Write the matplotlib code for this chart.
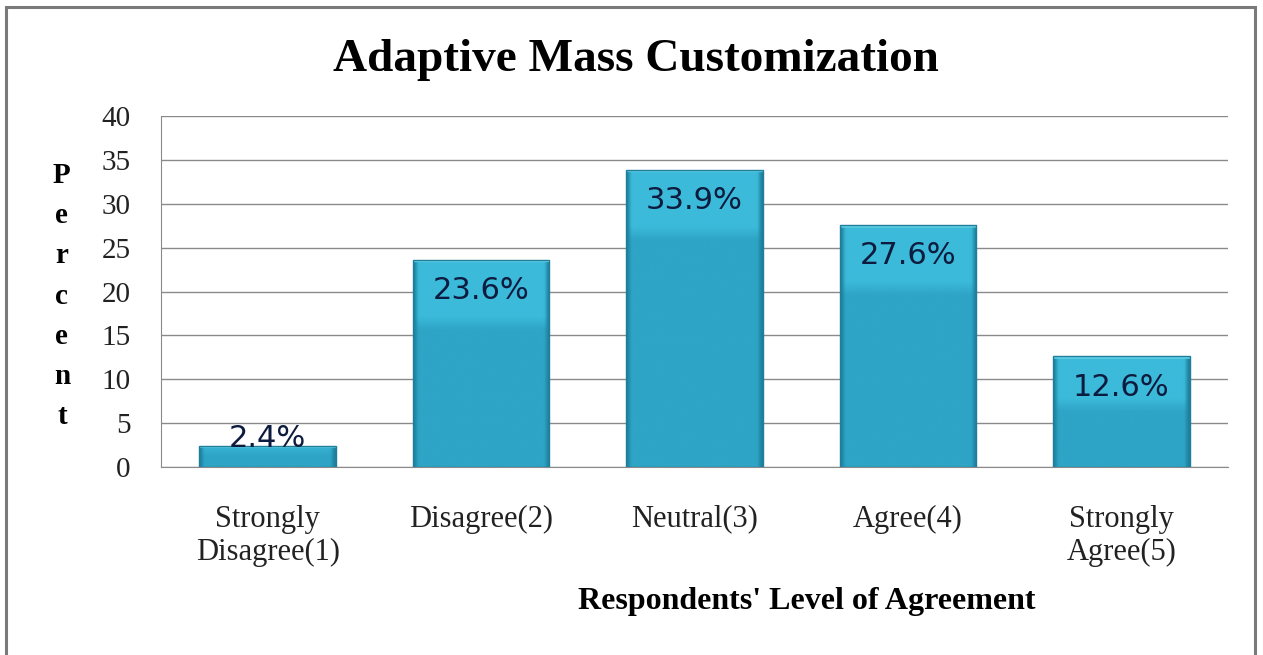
import numpy as np
import matplotlib.pyplot as plt
from matplotlib.patches import Rectangle

# Survey results: share of respondents per agreement level
categories = ["Strongly\nDisagree(1)", "Disagree(2)", "Neutral(3)", "Agree(4)", "Strongly\nAgree(5)"]
percents = [2.4, 23.6, 33.9, 27.6, 12.6]
yticks = [0, 5, 10, 15, 20, 25, 30, 35, 40]

SERIF = ["Liberation Serif", "DejaVu Serif"]


def BarShade(h, rows=200, cols=60):
    # Build an RGB gradient: darker sides, slightly lighter band near the top
    body = np.array([46, 164, 198]) / 255
    light = np.array([60, 186, 218]) / 255
    dark = np.array([30, 128, 158]) / 255
    xs = np.linspace(-1, 1, cols)
    side = np.clip((np.abs(xs) - 0.93) / 0.07, 0, 1)
    ys = np.linspace(h, 0, rows)
    band = min(8.0, 0.5 * h)
    top = np.clip((ys - (h - band)) / 1.5, 0, 1)
    img = body[None, None, :] * np.ones((rows, cols, 3))
    img = img * (1 - top[:, None, None]) + light[None, None, :] * top[:, None, None]
    img = img * (1 - side[None, :, None]) + dark[None, None, :] * side[None, :, None]
    # thin bright cap on top
    cap = ys > h - 0.3
    img[cap] = np.array([100, 208, 230]) / 255
    return img


def main():
    fig = plt.figure(figsize=(12.63, 6.55), dpi=100)
    ax = fig.add_axes([0.1275, 0.287, 0.8448, 0.5359])

    x = np.arange(len(categories))
    width = 0.64
    bars = ax.bar(x, percents, width=width, color="none", edgecolor="#1f7f9a", linewidth=1, zorder=3)

    for rect, val in zip(bars, percents):
        x0 = rect.get_x()
        im = ax.imshow(BarShade(val), extent=[x0, x0 + width, 0, val], aspect="auto",
                       interpolation="bilinear", zorder=2)
        clip = Rectangle((x0, 0), width, val, transform=ax.transData)
        im.set_clip_path(clip)

        # value labels just inside the top of each bar
        offset = 7 if val < 5 else -31
        ax.annotate(f"{val}%", (rect.get_x() + width / 2, val), xytext=(0, offset),
                    textcoords="offset pixels", ha="center", va="center",
                    fontsize=22, color="#0d1b3e", zorder=4)

    ax.set_xlim(-0.5, len(categories) - 0.5)
    ax.set_ylim(0, 40)
    ax.set_yticks(yticks)
    ax.set_yticklabels([str(t) for t in yticks], family=SERIF, fontsize=21, color="#222222")
    ax.set_xticks(x)
    ax.set_xticklabels(categories, family=SERIF, fontsize=22, color="#222222", linespacing=1.2)
    ax.tick_params(axis="both", length=0)
    ax.tick_params(axis="y", pad=22)
    ax.tick_params(axis="x", pad=27)
    ax.yaxis.grid(True, color="#8a8a8a", linewidth=1)
    ax.set_axisbelow(True)

    for side in ["top", "right"]:
        ax.spines[side].set_visible(False)
    ax.spines["left"].set_color("#8a8a8a")
    ax.spines["bottom"].set_color("#8a8a8a")

    # Titles
    fig.text(0.5035, 0.908, "Adaptive Mass Customization", family=SERIF, fontsize=34,
             fontweight="bold", ha="center", va="center")
    fig.text(0.049, 0.548, "\n".join("Percent"), family=SERIF, fontsize=21,
             fontweight="bold", ha="center", va="center", linespacing=1.63)
    fig.text(0.639, 0.081, "Respondents' Level of Agreement", family=SERIF, fontsize=23,
             fontweight="bold", ha="center", va="center")

    # Outer frame
    fig.add_artist(Rectangle((0.005, -0.01), 0.989, 1.0, transform=fig.transFigure,
                             fill=False, edgecolor="#7a7a7a", linewidth=2.2))

    fig.savefig("out.png", dpi=100)


if __name__ == "__main__":
    main()
